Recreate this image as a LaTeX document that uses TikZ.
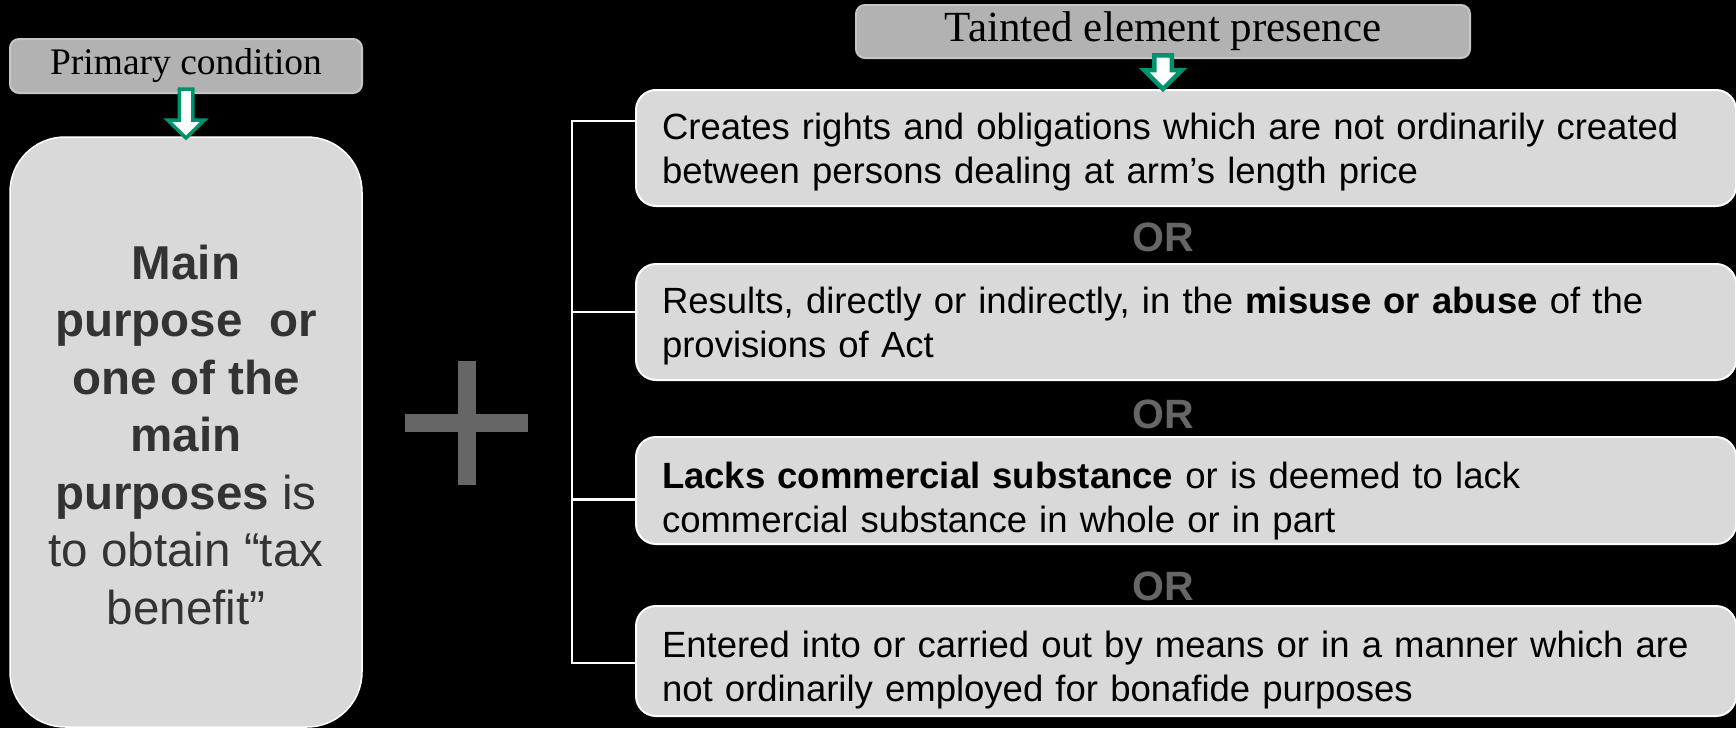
\documentclass[tikz,border=0pt]{standalone}
\usepackage{fontspec}
\setmainfont{Liberation Sans}
\newfontfamily\headfont{Liberation Serif}
\usetikzlibrary{positioning, calc}
\definecolor{boxFill}{HTML}{D9D9D9}
\definecolor{headFill}{HTML}{B2B2B2}
\definecolor{headLine}{HTML}{C6C6C6}
\definecolor{arrowGreen}{HTML}{00926C}
\definecolor{mainText}{HTML}{333333}
\definecolor{orGray}{HTML}{666666}
\tikzset{
    HeadBox/.style = {
        fill=headFill, draw=headLine, line width=2pt,
        rounded corners=9pt, inner sep=0pt
    },
    MainBox/.style = {
        fill=boxFill, draw=white, line width=1.5pt,
        rounded corners=55pt, align=center, text=mainText,
        font=\fontsize{47.5}{57.5}\selectfont
    },
    CondBox/.style = {
        fill=boxFill, draw=white, line width=2pt,
        rounded corners=20pt, align=left, text width=1048pt,
        inner xsep=26pt, inner ysep=0pt, text depth=43pt,
        font=\fontsize{36.5}{44}\selectfont
    },
    OrText/.style = {
        text=orGray, font=\bfseries\fontsize{41}{44}\selectfont
    },
    Bracket/.style = {draw=white, line width=2.5pt},
    pics/blockdown/.style n args = {5}{
        code = {
            \draw [arrowGreen, fill=white, line width=#5]
                (-#1,0) -- (#1,0) -- (#1,#3) -- (#2,#3) -- (0,{#3+#4})
                -- (-#2,#3) -- (-#1,#3) -- cycle;
        }
    }
}

\begin{document}
\begin{tikzpicture}[x=1pt, y=-1pt]
    \useasboundingbox (0,0) rectangle (1736,728);
    \fill [black] (0,0) rectangle (1736,728);

    % left column
    \node [HeadBox, minimum width=352pt, minimum height=54pt,
           font=\headfont\fontsize{37.5}{40}\selectfont] (primary) at (186,66) {Primary condition};
    \node [MainBox, minimum width=352pt, minimum height=590pt, text height=385pt] (main) at (186,432)
        {\textbf{Main}\\ \textbf{purpose\ \ or}\\ \textbf{one of the}\\ \textbf{main}\\
         \textbf{purposes} is\\ to obtain “tax\\ benefit”};
    \pic at (186,89) {blockdown={6.75}{18.5}{31}{18}{3.5pt}};

    % plus sign
    \fill [orGray] (405,414) rectangle (528,432);
    \fill [orGray] (458,361) rectangle (476,485);

    % right column
    \node [HeadBox, minimum width=614pt, minimum height=53pt,
           font=\headfont\fontsize{43}{46}\selectfont] (tainted) at (1163,31.5) {Tainted element presence};
    \node [CondBox, minimum height=116pt, anchor=north west] (rights) at (635,89)
        {Creates rights and obligations which are not ordinarily created\\
         between persons dealing at arm’s length price};
    \node [CondBox, minimum height=116pt, below=56pt of rights] (misuse)
        {Results, directly or indirectly, in the \textbf{misuse or abuse} of the\\
         provisions of Act};
    \node [CondBox, minimum height=107pt, text depth=30pt, below=55pt of misuse] (substance)
        {\textbf{Lacks commercial substance} or is deemed to lack\\
         commercial substance in whole or in part};
    \node [CondBox, minimum height=110pt, text depth=34pt, below=60pt of substance] (bonafide)
        {Entered into or carried out by means or in a manner which are\\
         not ordinarily employed for bonafide purposes};
    \pic at (1163,55.25) {blockdown={8.75}{19}{14.75}{19}{4.5pt}};

    \node [OrText] (or1) at (1163,237) {OR};
    \node [OrText] (or2) at (1163,414) {OR};
    \node [OrText] (or3) at (1163,586) {OR};

    \draw [Bracket] ([yshift=27pt]rights.west) -- ++(-63,0) |- ([yshift=-2pt]bonafide.west);
    \draw [Bracket] ([yshift=10pt]misuse.west) -- ++(-63,0);
    \draw [Bracket] ([yshift=-9pt]substance.west) -- ++(-63,0);
\end{tikzpicture}
\end{document}
